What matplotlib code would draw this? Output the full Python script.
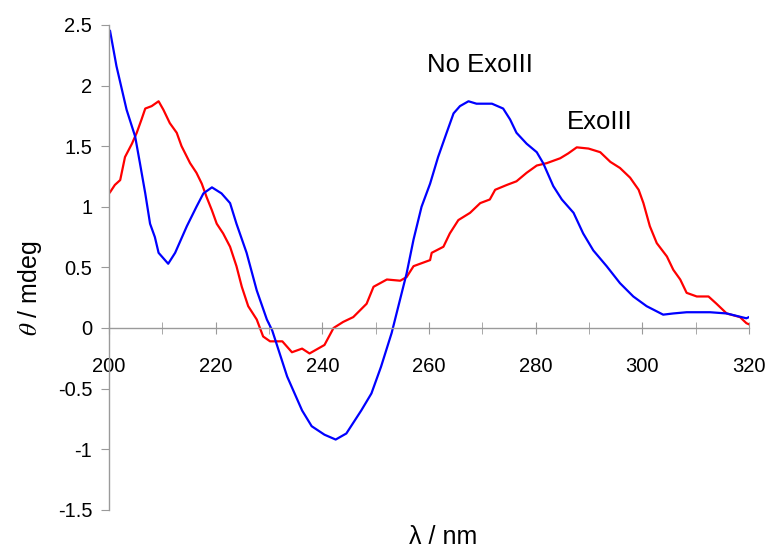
import matplotlib.pyplot as plt
from matplotlib.ticker import MultipleLocator

plt.rcParams['font.family'] = ['Liberation Sans', 'DejaVu Sans']
plt.rcParams['mathtext.fontset'] = 'stix'

# No ExoIII trace (blue)
wl_noexo = [200.2, 201.4, 203.3, 204.9, 205.8, 206.8, 207.7, 208.6, 209.3, 211.1,
            212.4, 214.6, 216.4, 217.7, 219.3, 221.1, 222.7, 223.9, 225.8, 227.7,
            229.6, 230.6, 233.4, 236.2, 238.0, 240.4, 242.5, 244.5, 247.3, 249.2,
            251.0, 253.0, 255.8, 257.1, 258.6, 260.2, 261.7, 263.3, 264.6, 265.8,
            267.4, 268.9, 271.8, 273.9, 275.2, 276.4, 278.3, 280.2, 281.4, 283.3,
            284.9, 287.1, 288.9, 290.8, 293.3, 295.8, 298.3, 300.8, 303.9, 305.8,
            308.3, 312.7, 315.8, 319.5, 320.0]
cd_noexo = [2.45, 2.16, 1.80, 1.58, 1.36, 1.11, 0.86, 0.75, 0.62, 0.53,
            0.62, 0.84, 1.00, 1.11, 1.16, 1.11, 1.03, 0.86, 0.62, 0.31,
            0.07, -0.02, -0.40, -0.68, -0.81, -0.88, -0.92, -0.87, -0.68, -0.54,
            -0.32, -0.04, 0.45, 0.73, 1.00, 1.19, 1.41, 1.61, 1.77, 1.83,
            1.87, 1.85, 1.85, 1.81, 1.72, 1.61, 1.52, 1.45, 1.36, 1.17,
            1.06, 0.95, 0.78, 0.64, 0.51, 0.37, 0.26, 0.18, 0.11, 0.12,
            0.13, 0.13, 0.12, 0.08, 0.09]

# ExoIII trace (red)
wl_exo = [200.2, 201.1, 202.1, 203.0, 204.3, 205.2, 206.1, 206.8, 208.0, 209.3,
          210.2, 211.4, 212.7, 213.6, 215.2, 216.4, 217.4, 218.3, 219.3, 220.2,
          221.4, 222.7, 223.9, 224.9, 226.1, 227.7, 228.9, 230.2, 232.5, 234.3,
          236.2, 237.6, 240.4, 242.1, 243.9, 245.8, 248.3, 249.6, 252.1, 254.6,
          255.8, 257.1, 260.2, 260.5, 262.7, 263.9, 265.5, 267.7, 269.6, 271.4,
          272.4, 274.6, 276.4, 278.3, 280.2, 282.1, 284.6, 286.1, 287.7, 289.9,
          292.1, 294.0, 295.8, 297.7, 299.3, 300.2, 301.4, 302.7, 304.6, 305.8,
          307.1, 308.3, 310.2, 312.4, 313.9, 315.8, 318.3, 319.5, 320.0]
cd_exo = [1.12, 1.18, 1.22, 1.41, 1.52, 1.61, 1.72, 1.81, 1.83, 1.87,
          1.80, 1.69, 1.61, 1.50, 1.36, 1.28, 1.19, 1.08, 0.97, 0.86,
          0.78, 0.67, 0.51, 0.34, 0.18, 0.07, -0.07, -0.11, -0.11, -0.20,
          -0.17, -0.21, -0.14, 0.00, 0.05, 0.09, 0.20, 0.34, 0.40, 0.39,
          0.42, 0.51, 0.56, 0.62, 0.67, 0.78, 0.89, 0.95, 1.03, 1.06,
          1.14, 1.18, 1.21, 1.28, 1.34, 1.36, 1.40, 1.44, 1.49, 1.48,
          1.45, 1.37, 1.32, 1.24, 1.14, 1.03, 0.84, 0.70, 0.59, 0.48,
          0.40, 0.29, 0.26, 0.26, 0.20, 0.12, 0.09, 0.04, 0.03]

fig = plt.figure(figsize=(7.73, 5.53), dpi=100)
ax = fig.add_axes([0.141, 0.078, 0.828, 0.877])

ax.plot(wl_exo, cd_exo, color='#ff0000', lw=1.6)
ax.plot(wl_noexo, cd_noexo, color='#0000ff', lw=1.6)

ax.set_xlim(200, 320)
ax.set_ylim(-1.5, 2.5)

axis_grey = '#9a9a9a'
ax.spines['top'].set_visible(False)
ax.spines['right'].set_visible(False)
ax.spines['bottom'].set_position(('data', 0))
for s in ['left', 'bottom']:
    ax.spines[s].set_color(axis_grey)
    ax.spines[s].set_linewidth(1.0)

ax.xaxis.set_major_locator(MultipleLocator(20))
ax.xaxis.set_minor_locator(MultipleLocator(10))
ax.yaxis.set_major_locator(MultipleLocator(0.5))
ax.yaxis.set_major_formatter(plt.FuncFormatter(lambda v, p: f'{v:g}'))

ax.tick_params(axis='x', which='both', direction='inout', length=8,
               color=axis_grey, labelsize=14.5, pad=17)
ax.tick_params(axis='y', direction='out', length=6, color=axis_grey,
               labelsize=14.5, pad=6)

ax.text(269.6, 2.17, 'No ExoIII', fontsize=18.5, ha='center', va='center')
ax.text(292.1, 1.70, 'ExoIII', fontsize=18.5, ha='center', va='center')

fig.text(443 / 773, 1 - 537 / 553, 'λ / nm', fontsize=18, ha='center', va='center')
fig.text(30 / 773, 1 - 288 / 553, r'$\theta$ / mdeg', fontsize=18,
         ha='center', va='center', rotation=90)

plt.savefig('out.png', dpi=100)
plt.close()
